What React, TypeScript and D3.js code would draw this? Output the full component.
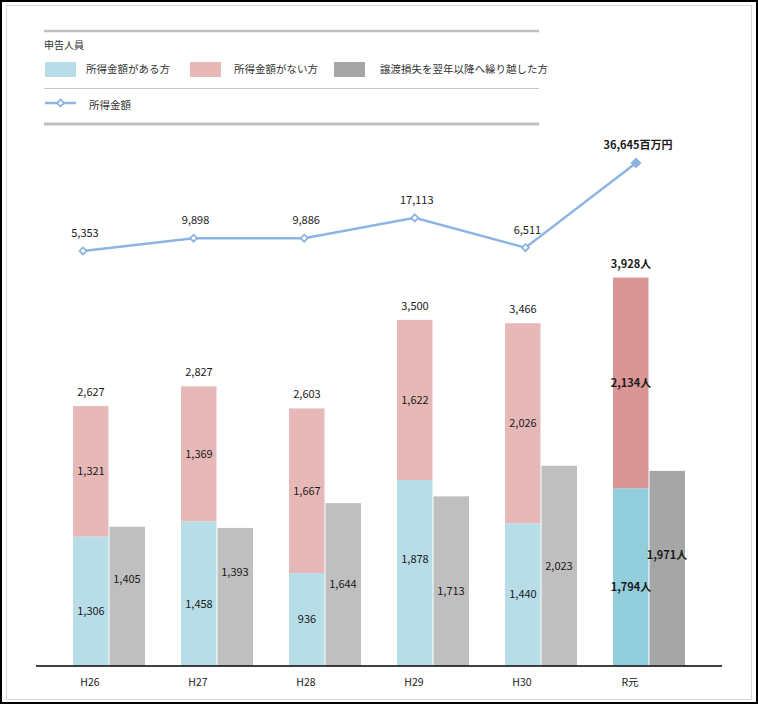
import React from "react";
import * as d3 from "d3";

const categories = ["H26", "H27", "H28", "H29", "H30", "R元"];
const withIncome = [1306, 1458, 936, 1878, 1440, 1794];
const withoutIncome = [1321, 1369, 1667, 1622, 2026, 2134];
const carriedOver = [1405, 1393, 1644, 1713, 2023, 1971];
const incomeAmount = [5353, 9898, 9886, 17113, 6511, 36645];

const legendTitle = "申告人員";
const legendNames = ["所得金額がある方", "所得金額がない方", "譲渡損失を翌年以降へ繰り越した方"];
const lineName = "所得金額";

const W = 758;
const H = 704;
const FONT = "'Noto Sans CJK JP', 'Noto Sans', sans-serif";

const COLORS = { blue: "#b7dde8", pink: "#e6b8b7", gray: "#bfbfbf" };
const COLORS_LAST = { blue: "#92cddc", pink: "#da9694", gray: "#a6a6a6" };
const LINE_COLOR = "#8db4e2";

export default function App() {
  const n = categories.length;
  const x = d3.scaleBand<string>().domain(categories).range([55, 703]).paddingInner(1 / 3).paddingOuter(1 / 6);
  const xi = d3.scaleBand<string>().domain(["a", "b"]).range([0, x.bandwidth()]);
  const y = d3.scaleLinear().domain([0, 4000]).range([665.5, 270.5]);
  const xl = d3.scalePoint<string>().domain(categories).range([83, 636]);
  const yl = d3.scaleLinear().domain([0, 40000]).range([266, 153.5]);
  const fmt = d3.format(",");
  const line = d3
    .line<number>()
    .x((_, i) => xl(categories[i])!)
    .y((d) => yl(d));

  const diamond = (cx: number, cy: number, r: number) =>
    `M${cx},${cy - r}L${cx + r},${cy}L${cx},${cy + r}L${cx - r},${cy}Z`;

  const legendItems = [
    { color: COLORS.blue, name: legendNames[0], sx: 45, tx: 86 },
    { color: COLORS.pink, name: legendNames[1], sx: 190, tx: 234 },
    { color: "#a6a6a6", name: legendNames[2], sx: 334, tx: 380 },
  ];

  return (
    <svg width={W} height={H} style={{ position: "absolute", left: 0, top: 0, fontFamily: FONT }}>
      <style>{`body{margin:0}`}</style>
      <rect x={0} y={0} width={W} height={H} fill="#fff" />
      <rect x={1} y={1} width={W - 2} height={H - 2} fill="none" stroke="#000" strokeWidth={2} />
      <rect x={6.5} y={5.5} width={745} height={694} fill="none" stroke="#d9d9d9" strokeWidth={1} />

      {/* legend */}
      <line x1={44} x2={539} y1={31} y2={31} stroke="#c0c0c0" strokeWidth={2.5} />
      <text x={44} y={49} fontSize={10} fill="#333">{legendTitle}</text>
      {legendItems.map((it, i) => (
        <g key={i}>
          <rect x={it.sx} y={62} width={31} height={15} fill={it.color} />
          <text x={it.tx} y={73} fontSize={10.5} fill="#333">{it.name}</text>
        </g>
      ))}
      <line x1={44} x2={539} y1={88.5} y2={88.5} stroke="#c8c8c8" strokeWidth={1} />
      <line x1={45} x2={76} y1={103} y2={103} stroke={LINE_COLOR} strokeWidth={2.5} />
      <path d={diamond(60.5, 103, 3.5)} fill="#fff" stroke={LINE_COLOR} strokeWidth={1.8} />
      <text x={89} y={109} fontSize={10.5} fill="#333">{lineName}</text>
      <line x1={44} x2={539} y1={124} y2={124} stroke="#c0c0c0" strokeWidth={3} />

      {/* bars */}
      {categories.map((c, i) => {
        const last = i === n - 1;
        const col = last ? COLORS_LAST : COLORS;
        const x0 = x(c)!;
        const bx = x0 + xi("a")!;
        const gx = x0 + xi("b")!;
        const bw = xi.bandwidth();
        const total = withIncome[i] + withoutIncome[i];
        const suffix = last ? "人" : "";
        const fw = last ? "bold" : "normal";
        const labelStyle = { fontSize: 11, fill: "#1a1a1a", fontWeight: fw as any, textAnchor: "middle" as any };
        // label centers, separated when blue / gray labels would collide
        let bMid = (y(0) + y(withIncome[i])) / 2;
        let gMid = (y(0) + y(carriedOver[i])) / 2;
        if (Math.abs(bMid - gMid) < 24) {
          const grayTop = gMid <= bMid + 5;
          if (grayTop) {
            bMid = bMid + 10;
            gMid = bMid - 32;
          } else {
            gMid = gMid + 10;
            bMid = gMid - 32;
          }
        }
        return (
          <g key={c}>
            <rect x={bx} y={y(withIncome[i])} width={bw - 0.5} height={y(0) - y(withIncome[i])} fill={col.blue} />
            <rect x={bx} y={y(total)} width={bw - 0.5} height={y(withIncome[i]) - y(total)} fill={col.pink} />
            <rect x={gx + 0.5} y={y(carriedOver[i])} width={bw - 0.5} height={y(0) - y(carriedOver[i])} fill={col.gray} />
            <text x={bx + bw / 2} y={bMid + 4} {...labelStyle}>{fmt(withIncome[i]) + suffix}</text>
            <text x={bx + bw / 2} y={(y(withIncome[i]) + y(total)) / 2 + 4} {...labelStyle}>{fmt(withoutIncome[i]) + suffix}</text>
            <text x={gx + bw / 2} y={gMid + 4} {...labelStyle}>{fmt(carriedOver[i]) + suffix}</text>
            <text x={bx + bw / 2} y={y(total) - 10} {...labelStyle}>{fmt(total) + suffix}</text>
            <text x={bx + bw / 2 - 1} y={686} fontSize={10.5} fill="#1a1a1a" textAnchor="middle">{c}</text>
          </g>
        );
      })}
      <line x1={36} x2={722} y1={666} y2={666} stroke="#000" strokeWidth={1.5} />

      {/* line */}
      <path d={line(incomeAmount)!} fill="none" stroke={LINE_COLOR} strokeWidth={2.5} />
      {incomeAmount.map((v, i) => {
        const last = i === n - 1;
        const cx = xl(categories[i])!;
        const cy = yl(v);
        return (
          <g key={i}>
            {last ? (
              <path d={diamond(cx, cy, 5)} fill={LINE_COLOR} stroke={LINE_COLOR} strokeWidth={1} />
            ) : (
              <path d={diamond(cx, cy, 3.5)} fill="#fff" stroke={LINE_COLOR} strokeWidth={1.8} />
            )}
            <text x={cx + 2} y={cy - 14} fontSize={11} fill="#1a1a1a" textAnchor="middle" fontWeight={last ? "bold" : "normal"}>
              {fmt(v) + (last ? "百万円" : "")}
            </text>
          </g>
        );
      })}
    </svg>
  );
}
